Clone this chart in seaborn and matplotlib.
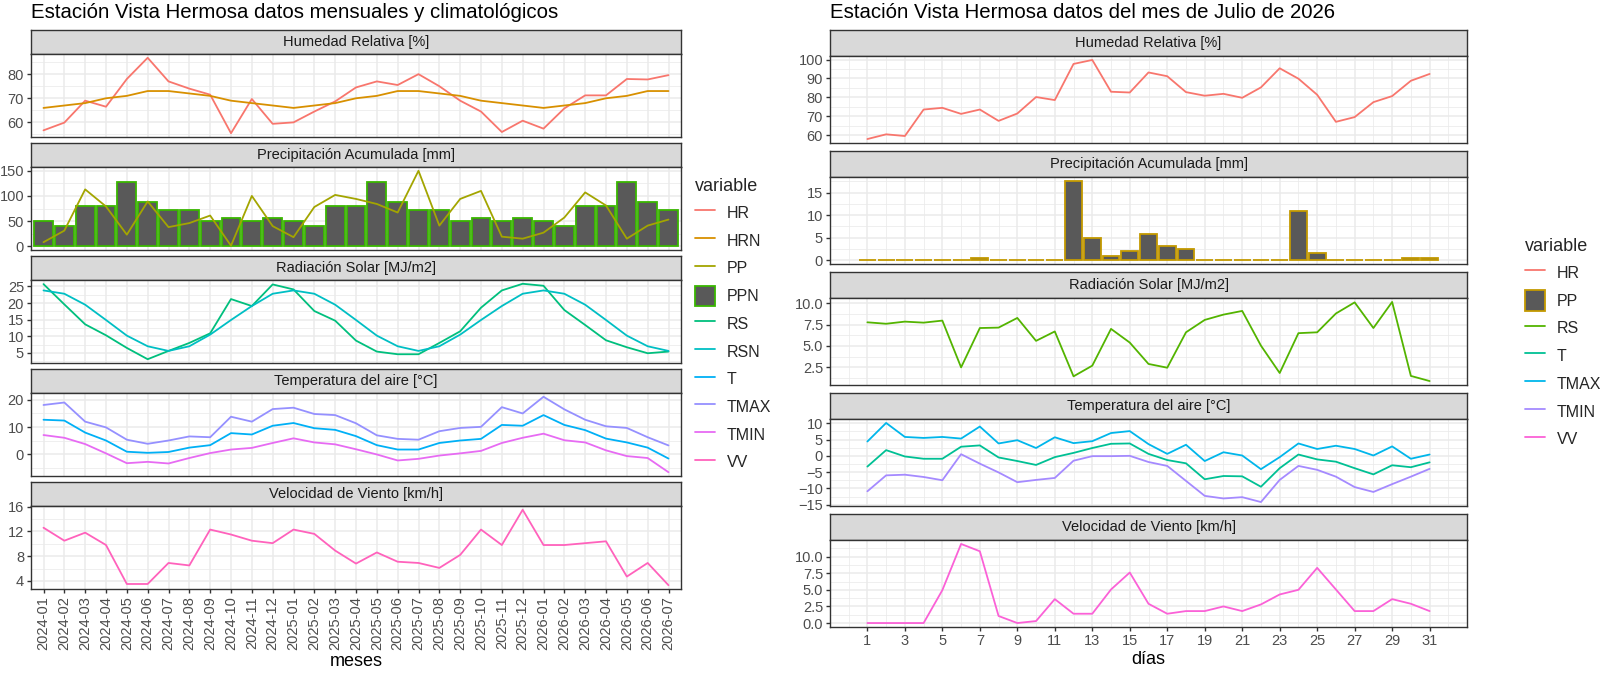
import numpy as np
import pandas as pd
import matplotlib
matplotlib.use("Agg")
import matplotlib.pyplot as plt
import seaborn as sns
from matplotlib import font_manager
from matplotlib.lines import Line2D
from matplotlib.patches import Patch
from matplotlib.ticker import FixedLocator, NullLocator

# ---------------- data: monthly (left) ----------------
months = ["2024-01", "2024-02", "2024-03", "2024-04", "2024-05", "2024-06", "2024-07",
          "2024-08", "2024-09", "2024-10", "2024-11", "2024-12", "2025-01", "2025-02",
          "2025-03", "2025-04", "2025-05", "2025-06", "2025-07", "2025-08", "2025-09",
          "2025-10", "2025-11", "2025-12", "2026-01", "2026-02", "2026-03", "2026-04",
          "2026-05", "2026-06", "2026-07"]
HR_m = [56.7, 59.9, 69.0, 66.5, 78.0, 86.8, 77.0, 74.0, 71.5, 55.5, 69.7, 59.4, 60.0, 64.5,
        68.7, 74.5, 77.0, 75.5, 80.0, 75.0, 69.0, 64.5, 56.0, 60.7, 57.4, 65.8, 71.2, 71.2,
        78.0, 77.8, 79.6]
HRN_m = [66, 67, 68, 70, 71, 73, 73, 72, 71, 69, 68, 67, 66, 67, 68, 70, 71, 73, 73, 72,
         71, 69, 68, 67, 66, 67, 68, 70, 71, 73, 73]
PP_m = [8, 31, 113, 79, 23, 89, 38, 46, 61, 1, 100, 40, 18, 78, 102, 94, 84, 67, 150, 41,
        94, 110, 19, 15, 27, 57, 107, 81, 15, 41, 53]
PPN_m = [50, 41, 80, 80, 127, 88, 73, 73, 50, 57, 50, 57, 50, 41, 80, 80, 127, 88, 73, 73,
         50, 57, 50, 57, 50, 41, 80, 80, 127, 88, 73]
RS_m = [25.7, 19.6, 13.6, 10.3, 6.5, 3.1, 5.6, 8.0, 10.9, 21.2, 19.1, 25.6, 24.1, 17.6,
        14.7, 8.7, 5.4, 4.6, 4.6, 8.0, 11.5, 18.6, 23.8, 25.8, 25.2, 17.9, 13.4, 8.8, 6.7,
        4.9, 5.4]
RSN_m = [23.8, 22.8, 19.5, 14.9, 10.2, 7.0, 5.6, 7.0, 10.5, 14.9, 19.1, 22.8, 23.8, 22.8,
         19.5, 14.9, 10.2, 7.0, 5.6, 7.0, 10.5, 14.9, 19.1, 22.8, 23.8, 22.8, 19.5, 14.9,
         10.2, 7.0, 5.6]
T_m = [12.7, 12.4, 8.0, 5.1, 1.0, 0.6, 0.9, 2.5, 3.4, 7.8, 7.3, 10.5, 11.5, 9.6, 9.0, 6.7,
       3.4, 1.8, 1.8, 4.2, 5.1, 5.7, 10.8, 10.5, 14.4, 10.8, 8.9, 5.8, 4.4, 2.5, -1.5]
TMAX_m = [18.1, 19.0, 12.0, 9.9, 5.4, 3.9, 5.1, 6.6, 6.3, 13.8, 12.0, 16.6, 17.1, 14.8,
          14.4, 11.4, 7.0, 5.7, 5.4, 8.5, 9.7, 10.1, 17.3, 15.0, 21.1, 16.5, 12.7, 10.3,
          9.7, 6.3, 3.3]
TMIN_m = [7.1, 6.1, 3.8, 0.4, -3.2, -2.7, -3.3, -1.3, 0.5, 1.8, 2.4, 4.2, 5.9, 4.4, 3.7,
          1.9, 0.0, -2.2, -1.6, -0.4, 0.4, 1.3, 4.2, 6.1, 7.6, 5.2, 4.4, 1.5, -0.6, -1.3,
          -6.5]
VV_m = [12.6, 10.5, 11.8, 9.8, 3.5, 3.5, 6.9, 6.5, 12.3, 11.5, 10.5, 10.1, 12.3, 11.6, 8.9,
        6.8, 8.6, 7.1, 6.9, 6.1, 8.2, 12.3, 9.8, 15.5, 9.8, 9.8, 10.1, 10.4, 4.7, 6.9, 3.3]

# ---------------- data: daily July 2026 (right) ----------------
days = list(range(1, 32))
HR_d = [58.0, 60.5, 59.6, 73.6, 74.5, 71.3, 73.6, 67.6, 71.5, 80.2, 78.6, 97.7, 99.8, 83.0,
        82.6, 93.2, 91.2, 82.8, 80.9, 81.9, 79.8, 85.3, 95.4, 89.9, 81.4, 67.1, 69.6, 77.5,
        80.7, 88.8, 92.4]
PP_d = [0.0, 0.0, 0.0, 0.0, 0.1, 0.0, 0.45, 0.0, 0.0, 0.0, 0.1, 17.6, 5.0, 0.8, 1.95, 5.7,
        3.2, 2.5, 0.1, 0.0, 0.0, 0.1, 0.0, 11.0, 1.65, 0.0, 0.0, 0.0, 0.1, 0.45, 0.55]
RS_d = [7.77, 7.6, 7.85, 7.73, 7.97, 2.5, 7.1, 7.15, 8.28, 5.6, 6.7, 1.45, 2.7, 7.0, 5.4,
        2.9, 2.46, 6.6, 8.05, 8.67, 9.1, 5.04, 1.84, 6.5, 6.6, 8.8, 10.1, 7.1, 10.15, 1.5,
        0.9]
T_d = [-3.3, 1.75, -0.2, -0.9, -0.9, 2.8, 3.2, -0.5, -1.6, -2.8, -0.4, 0.9, 2.4, 3.7, 3.8,
       0.6, -1.3, -2.3, -7.2, -6.2, -6.3, -9.5, -3.8, 0.4, -1.1, -1.8, -3.8, -5.7, -2.9,
       -3.5, -2.0]
TMAX_d = [4.4, 10.1, 5.8, 5.5, 5.8, 5.3, 9.0, 3.8, 4.8, 2.4, 5.7, 3.9, 4.5, 7.0, 7.6, 3.6,
          0.6, 3.4, -1.6, 1.1, 0.1, -4.1, -0.4, 3.8, 2.1, 3.1, 2.1, 0.1, 2.9, -0.9, 0.4]
TMIN_d = [-10.9, -6.0, -5.8, -6.5, -7.5, 0.5, -2.4, -5.1, -8.1, -7.4, -6.8, -1.5, -0.1,
          -0.1, 0.0, -1.9, -3.1, -7.7, -12.3, -13.1, -12.7, -14.2, -7.4, -3.1, -4.3, -6.4,
          -9.6, -11.1, -8.7, -6.4, -4.0]
VV_d = [0.0, 0.0, 0.0, 0.0, 4.95, 11.9, 10.8, 1.06, 0.0, 0.3, 3.6, 1.4, 1.4, 5.05, 7.6, 2.9,
        1.4, 1.8, 1.8, 2.5, 1.8, 2.8, 4.3, 5.0, 8.3, 5.05, 1.8, 1.8, 3.6, 2.9, 1.8]

titles = ["Humedad Relativa [%]", "Precipitación Acumulada [mm]", "Radiación Solar [MJ/m2]",
          "Temperatura del aire [°C]", "Velocidad de Viento [km/h]"]

pal_left = {"HR": "#F8766D", "HRN": "#D89000", "PP": "#A3A500", "PPN": "#39B600",
            "RS": "#00BF7D", "RSN": "#00BFC4", "T": "#00B0F6", "TMAX": "#9590FF",
            "TMIN": "#E76BF3", "VV": "#FF62BC"}
pal_right = {"HR": "#F8766D", "PP": "#C49A00", "RS": "#53B400", "T": "#00C094",
             "TMAX": "#00B6EB", "TMIN": "#A58AFF", "VV": "#FB61D7"}

# ---------------- fonts / theme ----------------
sns.set_theme(style="white")
avail = {f.name for f in font_manager.fontManager.ttflist}
fam = [f for f in ["Liberation Sans", "DejaVu Sans"] if f in avail]
plt.rcParams["font.family"] = fam

W, H = 1600, 676
fig = plt.figure(figsize=(W / 100, H / 100), dpi=100)
fig.patch.set_facecolor("white")

GRID = "#EBEBEB"
DARK = "#333333"
TICKC = "#4D4D4D"
LW = 1.3


def fx(px):
    return px / W


def fy(px):
    return 1 - px / H


def make_panel(x0, x1, strip_top, strip_h, plot_h, title):
    sax = fig.add_axes([fx(x0), fy(strip_top + strip_h), fx(x1 - x0), strip_h / H])
    sax.set_facecolor("#D9D9D9")
    sax.set_xticks([])
    sax.set_yticks([])
    for s in sax.spines.values():
        s.set_color(DARK)
        s.set_linewidth(1.0)
    sax.text(0.5, 0.5, title, ha="center", va="center", fontsize=10.5, color="#1A1A1A",
             transform=sax.transAxes)
    ax = fig.add_axes([fx(x0), fy(strip_top + strip_h + plot_h), fx(x1 - x0), plot_h / H])
    ax.set_facecolor("white")
    for s in ax.spines.values():
        s.set_color(DARK)
        s.set_linewidth(1.0)
    return ax


def style_y(ax, majors, minors, lims, fmt=None):
    ax.set_ylim(*lims)
    ax.yaxis.set_major_locator(FixedLocator(majors))
    ax.yaxis.set_minor_locator(FixedLocator(minors))
    if fmt:
        ax.set_yticklabels([fmt.format(v) for v in majors])
    ax.grid(True, which="major", axis="y", color=GRID, lw=1.1, zorder=0)
    ax.grid(True, which="minor", axis="y", color=GRID, lw=0.55, zorder=0)
    ax.tick_params(axis="y", which="major", length=3, width=1, color=DARK, labelsize=10.5,
                   labelcolor=TICKC, pad=2, left=True)
    ax.tick_params(axis="y", which="minor", length=0)
    ax.set_axisbelow(True)
    ax.set_ylabel("")


def exp(lo, hi):
    r = hi - lo
    return (lo - 0.05 * r, hi + 0.05 * r)


# ---------------- left panels ----------------
idx = np.arange(len(months))
dfL = pd.DataFrame({"i": idx, "HR": HR_m, "HRN": HRN_m, "PP": PP_m, "PPN": PPN_m,
                    "RS": RS_m, "RSN": RSN_m, "T": T_m, "TMAX": TMAX_m, "TMIN": TMIN_m,
                    "VV": VV_m})
groups_L = [["HR", "HRN"], ["PP"], ["RS", "RSN"], ["T", "TMAX", "TMIN"], ["VV"]]
yspec_L = [
    ([60, 70, 80], [55, 65, 75, 85], None),
    ([0, 50, 100, 150], [25, 75, 125], None),
    ([5, 10, 15, 20, 25], [2.5, 7.5, 12.5, 17.5, 22.5], None),
    ([0, 10, 20], [-5, 5, 15], None),
    ([4, 8, 12, 16], [6, 10, 14], None),
]
LX0, LX1 = 31, 681
for k in range(5):
    top = 30 + k * 113
    ax = make_panel(LX0, LX1, top, 24, 83, titles[k])
    vals = []
    if k == 1:
        sns.barplot(x=dfL["i"], y=dfL["PPN"], native_scale=True, color="#595959",
                    saturation=1, edgecolor=pal_left["PPN"], linewidth=1.3, width=0.9,
                    errorbar=None, ax=ax, zorder=2)
        vals += PPN_m + [0]
    long = dfL.melt(id_vars="i", value_vars=groups_L[k], var_name="variable")
    sns.lineplot(data=long, x="i", y="value", hue="variable", palette=pal_left, lw=LW,
                 legend=False, ax=ax, zorder=3)
    vals += list(long["value"])
    ax.set_xlim(-0.6, len(months) - 0.4)
    ax.xaxis.set_major_locator(FixedLocator(list(idx)))
    ax.xaxis.set_minor_locator(NullLocator())
    ax.grid(True, which="major", axis="x", color=GRID, lw=1.1, zorder=0)
    style_y(ax, yspec_L[k][0], yspec_L[k][1], exp(min(vals), max(vals)))
    ax.set_xlabel("")
    if k == 4:
        ax.set_xticklabels(months, rotation=90, ha="center", va="top")
        ax.tick_params(axis="x", which="major", length=3, width=1, color=DARK,
                       labelsize=10.5, labelcolor=TICKC, pad=2, bottom=True)
        ax.set_xlabel("meses", fontsize=13, color="black", labelpad=2)
    else:
        ax.tick_params(axis="x", which="both", length=0, labelbottom=False)

# ---------------- right panels ----------------
dfR = pd.DataFrame({"d": days, "HR": HR_d, "PP": PP_d, "RS": RS_d, "T": T_d,
                    "TMAX": TMAX_d, "TMIN": TMIN_d, "VV": VV_d})
groups_R = [["HR"], [], ["RS"], ["T", "TMAX", "TMIN"], ["VV"]]
yspec_R = [
    ([60, 70, 80, 90, 100], [55, 65, 75, 85, 95], None),
    ([0, 5, 10, 15], [2.5, 7.5, 12.5, 17.5], None),
    ([2.5, 5.0, 7.5, 10.0], [1.25, 3.75, 6.25, 8.75], "{:.1f}"),
    ([-15, -10, -5, 0, 5, 10], [-12.5, -7.5, -2.5, 2.5, 7.5], None),
    ([0.0, 2.5, 5.0, 7.5, 10.0], [1.25, 3.75, 6.25, 8.75, 11.25], "{:.1f}"),
]
RX0, RX1 = 830, 1467
for k in range(5):
    top = 30 + k * 121
    ax = make_panel(RX0, RX1, top, 26, 87, titles[k])
    vals = []
    if k == 1:
        sns.barplot(x=dfR["d"], y=dfR["PP"], native_scale=True, color="#595959",
                    saturation=1, edgecolor=pal_right["PP"], linewidth=1.3, width=0.9,
                    errorbar=None, ax=ax, zorder=2)
        vals += PP_d + [0]
    else:
        long = dfR.melt(id_vars="d", value_vars=groups_R[k], var_name="variable")
        sns.lineplot(data=long, x="d", y="value", hue="variable", palette=pal_right,
                     lw=LW, legend=False, ax=ax, zorder=3)
        vals += list(long["value"])
    ax.set_xlim(-0.995, 32.995)
    ax.xaxis.set_major_locator(FixedLocator(list(range(1, 32, 2))))
    ax.xaxis.set_minor_locator(FixedLocator(list(range(0, 33, 2))))
    ax.grid(True, which="major", axis="x", color=GRID, lw=1.1, zorder=0)
    ax.grid(True, which="minor", axis="x", color=GRID, lw=0.55, zorder=0)
    style_y(ax, yspec_R[k][0], yspec_R[k][1], exp(min(vals), max(vals)), yspec_R[k][2])
    ax.set_xlabel("")
    ax.tick_params(axis="x", which="minor", length=0)
    if k == 4:
        ax.tick_params(axis="x", which="major", length=3, width=1, color=DARK,
                       labelsize=10.5, labelcolor=TICKC, pad=2, bottom=True)
        ax.set_xlabel("días", fontsize=13, color="black", labelpad=2)
    else:
        ax.tick_params(axis="x", which="both", length=0, labelbottom=False)

# ---------------- titles ----------------
fig.text(fx(31), fy(12), "Estación Vista Hermosa datos mensuales y climatológicos",
         fontsize=14.7, ha="left", va="center", color="black")
fig.text(fx(830), fy(12), "Estación Vista Hermosa datos del mes de Julio de 2026",
         fontsize=14.7, ha="left", va="center", color="black")

# ---------------- legends ----------------
def handles_for(pal, barkey):
    hs = []
    for name, c in pal.items():
        if name == barkey:
            hs.append(Patch(facecolor="#595959", edgecolor=c, linewidth=1.3))
        else:
            hs.append(Line2D([0], [0], color=c, lw=LW))
    return hs, list(pal.keys())

leg_kw = dict(title="variable", loc="upper left", frameon=False, fontsize=11.5,
              title_fontsize=13, handlelength=1.25, handleheight=1.6,
              labelspacing=0.45, handletextpad=0.7, alignment="left")
hL, lL = handles_for(pal_left, "PPN")
fig.legend(hL, lL, bbox_to_anchor=(fx(681), fy(164)), **leg_kw)
hR, lR = handles_for(pal_right, "PP")
fig.legend(hR, lR, bbox_to_anchor=(fx(1511), fy(224)), **leg_kw)

fig.savefig("out.png", dpi=100, facecolor="white")
